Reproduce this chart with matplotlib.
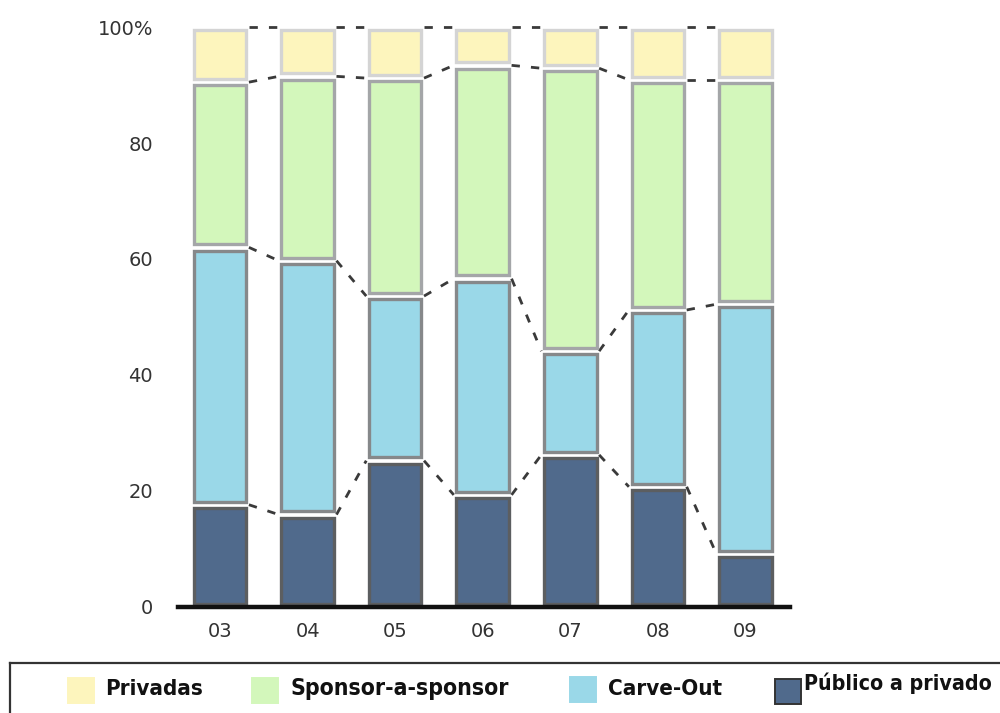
import numpy as np
import matplotlib.pyplot as plt
from matplotlib.patches import Rectangle

years = ['03', '04', '05', '06', '07', '08', '09']
publico = [17.6, 15.9, 25.2, 19.3, 26.2, 20.7, 9.1]
carve = [44.4, 43.8, 28.4, 37.3, 17.9, 30.5, 43.1]
sponsor = [28.5, 31.8, 37.6, 36.8, 48.8, 39.7, 38.7]
privadas = [9.5, 8.5, 8.8, 6.6, 7.1, 9.1, 9.1]

names = ['Privadas', 'Sponsor-a-sponsor', 'Carve-Out', 'Público a privado']
fills = ['#fdf5bd', '#d3f7bb', '#9ad8e8', '#506a8c']
edges = ['#d4d4d4', '#a4a6a8', '#86888a', '#5c5e60']

fig = plt.figure(figsize=(10, 7.13), dpi=100)
ax = fig.add_axes([0.178, 0.149, 0.612, 0.813])

x = np.arange(len(years))
w = 0.6
gap = 1.1

# stacked from the bottom: publico, carve, sponsor, privadas
stack = [publico, carve, sponsor, privadas]
stack_fill = fills[::-1]
stack_edge = edges[::-1]
base = np.zeros(len(years))
levels = []
for vals, fc, ec in zip(stack, stack_fill, stack_edge):
    vals = np.array(vals)
    ax.bar(x, vals - gap, bottom=base + gap / 2, width=w, color=fc,
           edgecolor=ec, linewidth=2.4, zorder=2, clip_on=False)
    base = base + vals
    levels.append(base.copy())

# dashed connectors between neighbouring bars
for lev in levels:
    for i in range(len(years) - 1):
        ax.plot([x[i] + w / 2 + 0.03, x[i + 1] - w / 2 - 0.03], [lev[i], lev[i + 1]],
                color='#3a3a3a', lw=2.0, dashes=(3, 4), zorder=1, clip_on=False)

ax.set_xlim(-0.48, 6.51)
ax.set_ylim(0, 100)
for s in ['left', 'right', 'top']:
    ax.spines[s].set_visible(False)
ax.spines['bottom'].set_linewidth(3.2)
ax.spines['bottom'].set_color('#111111')
ax.set_xticks(x)
ax.set_xticklabels(years)
ax.set_yticks([0, 20, 40, 60, 80, 100])
ax.set_yticklabels(['0', '20', '40', '60', '80', '100%'])
ax.tick_params(axis='both', length=0, labelsize=14, colors='#333333')
ax.tick_params(axis='y', pad=18)
ax.tick_params(axis='x', pad=11)

# legend strip along the bottom, laid out in pixel units (y downwards)
lax = fig.add_axes([0.010, -0.02, 0.995, 0.09])
lax.set_xlim(10, 1005)
lax.set_ylim(713 + 0.02 * 713, 713 - 0.07 * 713)
lax.set_xticks([])
lax.set_yticks([])
for s in lax.spines.values():
    s.set_color('#333333')
    s.set_linewidth(1.6)
sq_x = [68, 252, 570, 775]
sq_y = [678, 678, 677, 679]
tx_x = [105, 291, 608, 804]
tx_y = [695, 695, 695, 690]
tx_size = [16, 16.5, 16, 15.3]
for i in range(4):
    lax.add_patch(Rectangle((sq_x[i], sq_y[i]), 26, 25, facecolor=fills[i],
                            edgecolor='#333333' if i == 3 else fills[i], lw=1.4))
    lax.text(tx_x[i], tx_y[i], names[i], fontsize=tx_size[i], fontweight='bold',
             fontstretch='condensed', va='baseline', ha='left', color='#111111',
             family=['DejaVu Sans'])

fig.savefig('out.png', dpi=100)
